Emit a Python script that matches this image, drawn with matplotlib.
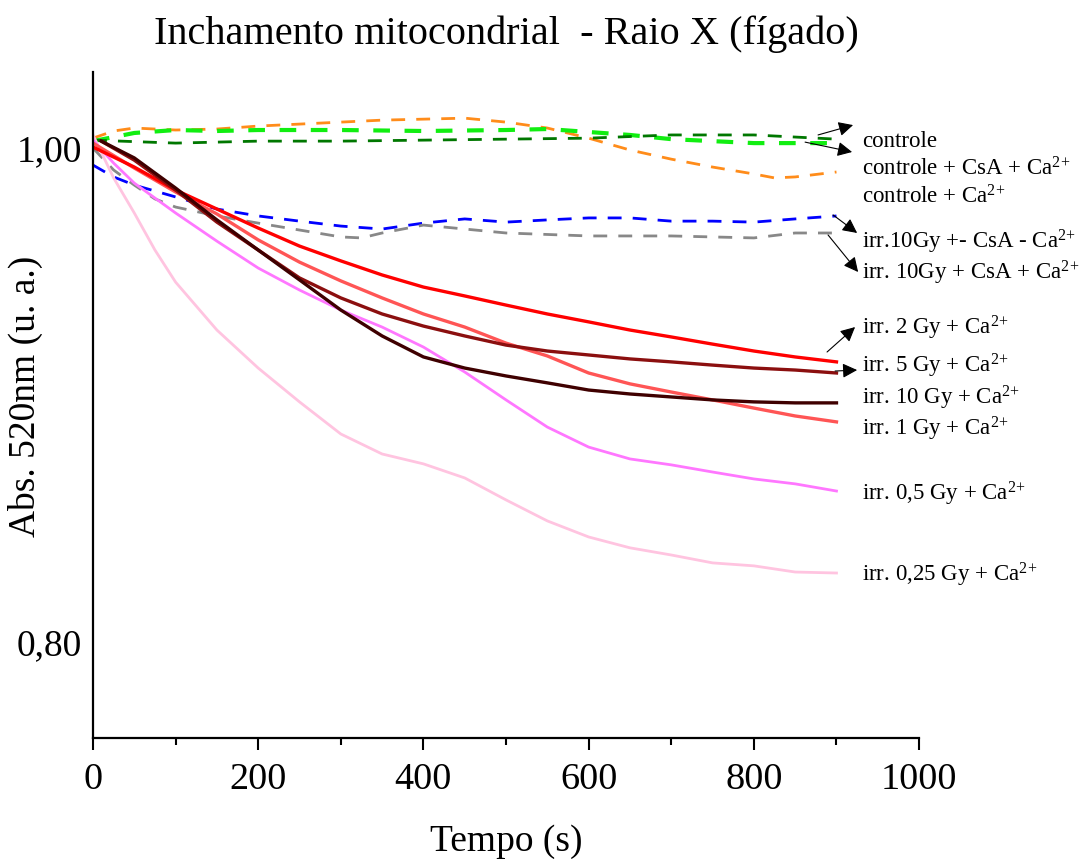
import matplotlib
matplotlib.use("Agg")
import matplotlib.pyplot as plt
import numpy as np

plt.rcParams["font.family"] = ["Liberation Serif", "DejaVu Serif"]
plt.rcParams["mathtext.fontset"] = "custom"
plt.rcParams["mathtext.rm"] = "Liberation Serif"
plt.rcParams["mathtext.it"] = "Liberation Serif:italic"

# ---- data: absorbance at 520 nm vs time (s) ----
t_ctrl = [0, 100, 200, 300, 400, 500, 600, 700, 800, 900]
controle = [1.0032, 1.0020, 1.0028, 1.0028, 1.0032, 1.0036, 1.0040, 1.0053, 1.0053, 1.0036]

t_csa = [0, 50, 100, 150, 200, 300, 400, 500, 550, 600, 650, 700, 750, 800, 900]
controle_csa_ca = [1.0028, 1.0061, 1.0073, 1.0069, 1.0073, 1.0073, 1.0069, 1.0073,
                   1.0077, 1.0065, 1.0053, 1.0036, 1.0028, 1.0020, 1.0020]

t_ca = [0, 25, 50, 100, 150, 200, 250, 300, 350, 400, 450, 500, 550, 600, 650,
        700, 750, 800, 825, 850, 900]
controle_ca = [1.0040, 1.0069, 1.0081, 1.0073, 1.0077, 1.0089, 1.0097, 1.0105, 1.0113,
               1.0117, 1.0121, 1.0105, 1.0081, 1.0040, 0.9992, 0.9955, 0.9923, 0.9895,
               0.9879, 0.9883, 0.9903]

t_blue = [0, 25, 50, 75, 100, 150, 200, 250, 300, 350, 400, 450, 500, 550, 600,
          650, 700, 750, 800, 850, 900]
irr10_mcsa_mca = [0.9931, 0.9883, 0.9850, 0.9826, 0.9802, 0.9753, 0.9725, 0.9704, 0.9684,
                  0.9672, 0.9696, 0.9713, 0.9700, 0.9709, 0.9717, 0.9717, 0.9704, 0.9704,
                  0.9700, 0.9713, 0.9725]

t_gray = [0, 25, 50, 75, 100, 150, 200, 250, 300, 325, 350, 400, 450, 500, 600,
          700, 800, 850, 900]
irr10_csa_ca = [1.0000, 0.9911, 0.9850, 0.9794, 0.9761, 0.9725, 0.9696, 0.9668, 0.9640,
                0.9636, 0.9656, 0.9688, 0.9672, 0.9656, 0.9644, 0.9644, 0.9636, 0.9656,
                0.9656]

t_irr = [0, 50, 100, 150, 200, 250, 300, 350, 400, 450, 500, 550, 600, 650, 700,
         750, 800, 850, 900]
irr2 = [1.0004, 0.9923, 0.9830, 0.9753, 0.9676, 0.9603, 0.9543, 0.9486, 0.9437, 0.9401,
        0.9364, 0.9328, 0.9296, 0.9263, 0.9235, 0.9206, 0.9178, 0.9154, 0.9134]
irr1 = [1.0020, 0.9919, 0.9822, 0.9733, 0.9628, 0.9538, 0.9462, 0.9393, 0.9328, 0.9275,
        0.9210, 0.9158, 0.9089, 0.9045, 0.9012, 0.8980, 0.8947, 0.8915, 0.8891]

t_dark = [10, 50, 100, 150, 200, 250, 300, 350, 400, 450, 500, 550, 600, 650, 700,
          750, 800, 850, 900]
irr5 = [1.0028, 0.9951, 0.9830, 0.9700, 0.9587, 0.9474, 0.9393, 0.9328, 0.9279, 0.9239,
        0.9202, 0.9178, 0.9162, 0.9146, 0.9134, 0.9121, 0.9109, 0.9101, 0.9089]
irr10 = [1.0028, 0.9960, 0.9838, 0.9709, 0.9587, 0.9466, 0.9344, 0.9239, 0.9154, 0.9109,
         0.9077, 0.9049, 0.9020, 0.9004, 0.8992, 0.8980, 0.8972, 0.8968, 0.8968]

t_low = [0, 25, 50, 100, 150, 200, 250, 300, 350, 400, 450, 500, 550, 600, 650,
         700, 750, 800, 850, 900]
irr05 = [1.0032, 0.9939, 0.9858, 0.9737, 0.9623, 0.9514, 0.9425, 0.9344, 0.9275, 0.9194,
         0.9093, 0.8980, 0.8870, 0.8789, 0.8741, 0.8717, 0.8688, 0.8660, 0.8640, 0.8611]

t_pink = [0, 25, 50, 75, 100, 150, 200, 250, 300, 350, 400, 450, 500, 550, 600,
          650, 700, 750, 800, 850, 900]
irr025 = [1.0053, 0.9879, 0.9737, 0.9587, 0.9457, 0.9263, 0.9109, 0.8972, 0.8842, 0.8761,
          0.8721, 0.8664, 0.8575, 0.8490, 0.8425, 0.8381, 0.8352, 0.8320, 0.8308, 0.8283,
          0.8279]

fig = plt.figure(figsize=(10.90, 8.59), dpi=100)
ax = fig.add_axes([0.0853, 0.1409, 0.7579, 0.7753])

# dashed controls
ax.plot(t_ca, controle_ca, color="#ff8c1a", lw=2.0, dashes=(5, 4))
ax.plot(t_csa, controle_csa_ca, color="#11ee11", lw=3.0, dashes=(4, 3.5))
ax.plot(t_ctrl, controle, color="#007700", lw=2.0, dashes=(5, 4))
ax.plot(t_blue, irr10_mcsa_mca, color="#0000ff", lw=2.0, dashes=(5, 4))
ax.plot(t_gray, irr10_csa_ca, color="#888888", lw=2.0, dashes=(5, 4))

# irradiated samples
ax.plot(t_pink, irr025, color="#ffc4e0", lw=2.0)
ax.plot(t_low, irr05, color="#ff77ff", lw=2.0)
ax.plot(t_irr, irr1, color="#ff5555", lw=2.4)
ax.plot(t_irr, irr2, color="#ff0000", lw=2.4)
ax.plot(t_dark, irr5, color="#8b0f0f", lw=2.4)
ax.plot(t_dark, irr10, color="#3f0000", lw=2.4)

ax.set_xlim(0, 1000)
ax.set_ylim(0.7611, 1.0308)
ax.set_xticks([0, 200, 400, 600, 800, 1000])
ax.set_xticks([100, 300, 500, 700, 900], minor=True)
ax.set_yticks([0.80, 1.00])
ax.set_yticklabels(["0,80", "1,00"])
ax.tick_params(axis="x", which="major", direction="out", length=8.5, width=1.5,
               labelsize=27.5, pad=9)
ax.tick_params(axis="x", which="minor", direction="out", length=5, width=1.5)
ax.tick_params(axis="y", length=0, labelsize=27, pad=8)
for side in ("top", "right"):
    ax.spines[side].set_visible(False)
for side in ("left", "bottom"):
    ax.spines[side].set_linewidth(1.6)

ax.set_xlabel("Tempo (s)", fontsize=27, labelpad=20)
ax.set_ylabel("Abs. 520nm (u. a.)", fontsize=27)
ax.yaxis.set_label_coords(-0.0605, 0.5135)
ax.set_title("Inchamento mitocondrial  - Raio X (fígado)", fontsize=29, pad=20)

# curve labels (x in s, y at text baseline)
sup = r"$^{2\!+}$"
labels = [
    ("controle", 1.0004),
    ("controle + CsA + Ca" + sup, 0.9887),
    ("controle + Ca" + sup, 0.9777),
    ("irr.10Gy +- CsA - Ca" + sup, 0.9595),
    ("irr. 10Gy + CsA + Ca" + sup, 0.9466),
    ("irr. 2 Gy + Ca" + sup, 0.9243),
    ("irr. 5 Gy + Ca" + sup, 0.9093),
    ("irr. 10 Gy + Ca" + sup, 0.8960),
    ("irr. 1 Gy + Ca" + sup, 0.8834),
    ("irr. 0,5 Gy + Ca" + sup, 0.8571),
    ("irr. 0,25 Gy + Ca" + sup, 0.8243),
]
for txt, yb in labels:
    ax.text(931, yb, txt, fontsize=16.5, va="baseline", ha="left", clip_on=False)

# pointer arrows from curve ends to their labels
arrows = [
    ((877.7, 1.0053), (920.1, 1.0093)),
    ((862.0, 1.0024), (918.9, 0.9984)),
    ((895.9, 0.9729), (925.0, 0.9656)),
    ((889.8, 0.9648), (926.2, 0.9498)),
    ((888.6, 0.9174), (922.5, 0.9275)),
    ((898.3, 0.9097), (925.0, 0.9101)),
]
for tail, head in arrows:
    ax.annotate("", xy=head, xytext=tail, annotation_clip=False,
                arrowprops=dict(arrowstyle="-|>", color="black", lw=0.8,
                                mutation_scale=22, shrinkA=0, shrinkB=0))

fig.savefig("out.png", dpi=100)
